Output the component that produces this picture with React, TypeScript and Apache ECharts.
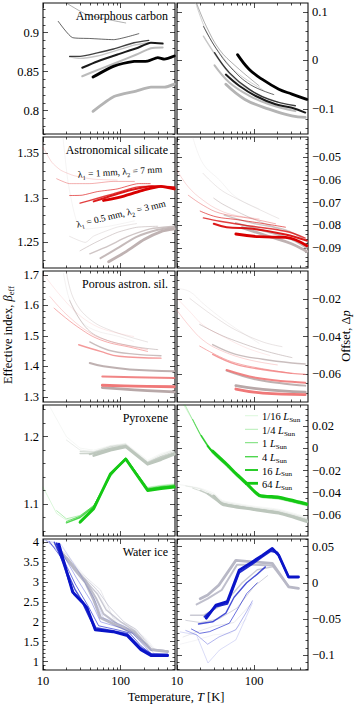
import React, { useEffect, useRef } from "react";
import * as echarts from "echarts";

// [set (0 = λ1=1mm/λ2=7mm coloured, 1 = λ1=0.5mm/λ2=3mm grey), luminosity index (0..5), [T, value] points]
type Line = [number, number, number[][]];

const luminosities = ["1/16", "1/4", "1", "4", "16", "64"];
const panelTitles = ["Amorphous carbon", "Astronomical silicate", "Porous astron. sil.", "Pyroxene", "Water ice"];

const xMajorTicks = [10, 100];
const xMinorTicks = [20, 30, 40, 50, 60, 70, 80, 90, 200, 300, 400];
const xTickLabels = [10, 100];

const leftYRange = [[0.77, 0.938], [1.221, 1.3685], [1.283, 1.713], [1.0525, 1.247], [0.79, 4.08]];
const rightYRange = [[-0.151, 0.118], [-0.0988, -0.041], [-0.0747, -0.0051], [-0.079, 0.039], [-0.1207, 0.0606]];
const leftYTicks = [[0.8, 0.85, 0.9], [1.25, 1.3, 1.35], [1.3, 1.4, 1.5, 1.6, 1.7], [1.1, 1.2], [1, 1.5, 2, 2.5, 3, 3.5, 4]];
const rightYTicks = [[-0.1, 0, 0.1], [-0.09, -0.08, -0.07, -0.06, -0.05], [-0.06, -0.04, -0.02], [-0.06, -0.04, -0.02, 0, 0.02], [-0.1, -0.05, 0, 0.05]];
const leftYMinorStep = [0.01, 0.01, 0.02, 0.02, 0.1];
const rightYMinorStep = [0.02, 0.002, 0.005, 0.005, 0.01];

const carbonL: Line[] = [
  [1, 3, [[22, 0.869], [30, 0.867], [50, 0.870], [81, 0.876], [148, 0.884], [230, 0.887]]],
  [1, 4, [[32, 0.844], [50, 0.852], [91, 0.862], [160, 0.872], [245, 0.880], [347, 0.881]]],
  [1, 5, [[44, 0.799], [82, 0.818], [158, 0.825], [245, 0.830], [365, 0.830], [490, 0.834]]],
  [0, 1, [[20, 0.938], [37, 0.923], [116, 0.9124]]],
  [0, 2, [[15.7, 0.9145], [24, 0.8936], [40, 0.8925], [81, 0.891], [171, 0.8987]]],
  [0, 3, [[22, 0.8696], [30, 0.8696], [50, 0.874], [81, 0.879], [148, 0.887], [230, 0.890]]],
  [0, 4, [[32, 0.855], [50, 0.863], [91, 0.872], [160, 0.880], [245, 0.887], [347, 0.886]]],
  [0, 5, [[44, 0.843], [82, 0.857], [149, 0.863], [222, 0.8635], [300, 0.868], [365, 0.866], [490, 0.870]]],
];
const carbonR: Line[] = [
  [1, 2, [[17.5, 0.118], [24, 0.06], [36, 0.015], [60, -0.025], [130, -0.06]]],
  [1, 3, [[22, 0.05], [32, 0.01], [50, -0.03], [90, -0.062], [200, -0.085]]],
  [1, 4, [[30.7, -0.01], [47.7, -0.045], [86, -0.072], [156, -0.09], [343, -0.104]]],
  [1, 5, [[43, -0.049], [76, -0.08], [156, -0.1], [309, -0.114], [460, -0.117]]],
  [0, 1, [[17.9, 0.118], [24, 0.07], [35.6, 0.022], [58, -0.012], [116, -0.052]]],
  [0, 2, [[22, 0.07], [32, 0.025], [50, -0.015], [90, -0.05], [180, -0.07]]],
  [0, 3, [[30.7, 0.016], [47.7, -0.025], [86, -0.059], [156, -0.08], [343, -0.093]]],
  [0, 4, [[43, -0.029], [64, -0.052], [105, -0.073], [190, -0.09], [309, -0.097], [460, -0.107]]],
  [0, 5, [[61, 0.012], [86, -0.018], [128, -0.039], [209, -0.059], [309, -0.069], [482, -0.08]]],
];
const silicateL: Line[] = [
  [1, 0, [[18, 1.37], [21, 1.318], [27, 1.274], [36, 1.265], [70, 1.268], [150, 1.274]]],
  [1, 1, [[22, 1.2566], [35, 1.2498], [45, 1.257], [90, 1.267], [160, 1.271]]],
  [1, 2, [[30, 1.2404], [48, 1.25], [90, 1.261], [160, 1.2668], [300, 1.268]]],
  [1, 3, [[40, 1.237], [70, 1.246], [120, 1.256], [240, 1.265], [490, 1.268]]],
  [1, 4, [[55, 1.232], [90, 1.243], [160, 1.256], [300, 1.264], [490, 1.267]]],
  [1, 5, [[70, 1.228], [120, 1.24], [200, 1.253], [330, 1.262], [490, 1.265]]],
  [0, 0, [[10, 1.357], [13, 1.34], [17, 1.331], [25, 1.325], [45, 1.321], [90, 1.32]]],
  [0, 1, [[15, 1.3215], [22, 1.316], [40, 1.316], [80, 1.3185], [150, 1.3185]]],
  [0, 2, [[22, 1.3026], [32, 1.303], [50, 1.307], [90, 1.31], [170, 1.316], [240, 1.316]]],
  [0, 3, [[30, 1.294], [48, 1.299], [80, 1.3045], [160, 1.312], [300, 1.313], [490, 1.311]]],
  [0, 4, [[45, 1.296], [80, 1.303], [140, 1.309], [250, 1.313], [490, 1.312]]],
  [0, 5, [[60, 1.297], [110, 1.302], [200, 1.309], [330, 1.313], [490, 1.31]]],
];
const silicateR: Line[] = [
  [1, 0, [[16, -0.041], [21.7, -0.0527], [35.6, -0.06], [58, -0.0675], [116, -0.0727]]],
  [1, 1, [[21.7, -0.057], [36, -0.064], [58, -0.068], [156, -0.075], [210, -0.077]]],
  [1, 2, [[30, -0.068], [41, -0.071], [95, -0.077], [210, -0.0815]]],
  [1, 3, [[41, -0.0755], [95, -0.079], [255, -0.082], [483, -0.087]]],
  [1, 4, [[58, -0.079], [156, -0.083], [300, -0.086], [483, -0.09]]],
  [1, 5, [[70, -0.081], [160, -0.085], [300, -0.088], [483, -0.0915]]],
  [0, 0, [[10, -0.0556], [14, -0.063], [22, -0.069], [36, -0.0734], [58, -0.0756], [116, -0.0771]]],
  [0, 1, [[14, -0.0667], [22, -0.0712], [36, -0.0746], [95, -0.0771], [190, -0.0793]]],
  [0, 2, [[20, -0.0737], [32, -0.0762], [58, -0.0774], [156, -0.0796], [255, -0.0808]]],
  [0, 3, [[22, -0.0767], [36, -0.0782], [95, -0.0804], [255, -0.0826], [460, -0.0856]]],
  [0, 4, [[30, -0.0793], [44, -0.0808], [95, -0.0815], [255, -0.084], [483, -0.0867]]],
  [0, 5, [[58, -0.0838], [116, -0.085], [255, -0.0853], [483, -0.089]]],
];
const porousL: Line[] = [
  [1, 0, [[18.4, 1.705], [22, 1.618], [30, 1.553], [45, 1.52], [95, 1.498], [147, 1.482]]],
  [1, 1, [[20, 1.71], [25, 1.62], [40, 1.555], [80, 1.515], [222, 1.48]]],
  [1, 2, [[22, 1.617], [35, 1.53], [60, 1.49], [150, 1.465], [300, 1.455]]],
  [1, 3, [[40, 1.48], [70, 1.453], [150, 1.44], [330, 1.435]]],
  [1, 4, [[40, 1.411], [60, 1.4], [130, 1.39], [490, 1.384]]],
  [1, 5, [[58, 1.33], [150, 1.323], [490, 1.316]]],
  [0, 0, [[10, 1.705], [15.8, 1.64], [27.4, 1.575], [45, 1.536], [74, 1.515], [147, 1.498]]],
  [0, 1, [[12.3, 1.629], [20.3, 1.569], [40.7, 1.509], [74, 1.482], [222, 1.455]]],
  [0, 2, [[13.9, 1.591], [27.4, 1.531], [55, 1.487], [147, 1.46], [222, 1.449]]],
  [0, 3, [[28.8, 1.471], [55, 1.449], [95, 1.433], [330, 1.427]]],
  [0, 4, [[58, 1.367], [150, 1.364], [490, 1.362]]],
  [0, 5, [[58, 1.338], [150, 1.335], [490, 1.333]]],
];
const porousR: Line[] = [
  [1, 0, [[10, -0.0143], [14.7, -0.0161], [21.7, -0.0223], [35.6, -0.0294], [58, -0.0356], [116, -0.0435]]],
  [1, 1, [[14.7, -0.0197], [21.7, -0.025], [35.6, -0.0312], [58, -0.0365], [130, -0.0428], [230, -0.0453]]],
  [1, 2, [[19.7, -0.0335], [35.6, -0.0388], [58, -0.0423], [140, -0.0476], [309, -0.0511]]],
  [1, 3, [[29, -0.0442], [58, -0.0494], [130, -0.052], [309, -0.054], [460, -0.0545]]],
  [1, 4, [[44, -0.058], [100, -0.0625], [250, -0.065], [460, -0.066]]],
  [1, 5, [[58, -0.066], [130, -0.068], [460, -0.0695]]],
  [0, 0, [[10, -0.0196], [14.7, -0.0267], [21.7, -0.0338], [40, -0.04], [80, -0.046], [160, -0.05]]],
  [0, 1, [[10, -0.026], [14.7, -0.0347], [21.7, -0.0418], [35.6, -0.047], [80, -0.052], [200, -0.055]]],
  [0, 2, [[19.7, -0.045], [35.6, -0.0506], [58, -0.054], [116, -0.0567], [309, -0.0595]]],
  [0, 3, [[29, -0.0494], [58, -0.0547], [140, -0.0577], [309, -0.0595], [460, -0.06]]],
  [0, 4, [[44, -0.0577], [110, -0.062], [309, -0.064], [460, -0.0645]]],
  [0, 5, [[58, -0.0678], [130, -0.07], [460, -0.0708]]],
];
const pyroxeneL: Line[] = [
  [1, 0, [[11.5, 1.25], [20, 1.2], [30, 1.183], [45, 1.18], [74, 1.187], [116, 1.19], [222, 1.165], [331, 1.175], [490, 1.181]]],
  [1, 1, [[20, 1.195], [30, 1.18], [45, 1.178], [74, 1.186], [116, 1.189], [222, 1.163], [331, 1.173], [490, 1.18]]],
  [1, 2, [[30, 1.178], [45, 1.177], [74, 1.185], [116, 1.188], [222, 1.162], [331, 1.171], [490, 1.178]]],
  [1, 3, [[30, 1.175], [45, 1.175], [74, 1.183], [116, 1.187], [222, 1.161], [331, 1.17], [490, 1.176]]],
  [1, 4, [[40, 1.174], [74, 1.182], [116, 1.186], [222, 1.16], [331, 1.168], [490, 1.175]]],
  [1, 5, [[45, 1.172], [74, 1.18], [116, 1.185], [222, 1.159], [331, 1.166], [490, 1.174]]],
  [0, 0, [[10, 1.125], [15, 1.086], [20, 1.076], [30, 1.081], [45, 1.096], [74, 1.14], [116, 1.168], [222, 1.125], [331, 1.128], [490, 1.13]]],
  [0, 1, [[15, 1.09], [20, 1.078], [30, 1.083], [45, 1.097], [74, 1.141], [116, 1.168], [222, 1.124], [331, 1.127], [490, 1.129]]],
  [0, 2, [[20, 1.074], [30, 1.082], [45, 1.098], [74, 1.142], [116, 1.168], [222, 1.123], [331, 1.126], [490, 1.128]]],
  [0, 3, [[20, 1.072], [30, 1.08], [45, 1.096], [74, 1.143], [116, 1.168], [222, 1.122], [331, 1.125], [490, 1.127]]],
  [0, 4, [[30, 1.074], [45, 1.094], [74, 1.144], [116, 1.167], [222, 1.121], [331, 1.124], [490, 1.126]]],
  [0, 5, [[30, 1.073], [45, 1.093], [74, 1.145], [116, 1.167], [222, 1.12], [331, 1.123], [490, 1.125]]],
];
const pyroxeneR: Line[] = [
  [1, 0, [[10.7, -0.0327], [19.7, -0.0358], [30, -0.0405], [39, -0.047], [95, -0.052], [209, -0.055], [483, -0.062]]],
  [1, 1, [[13, -0.034], [19.7, -0.0365], [30, -0.042], [39, -0.048], [95, -0.053], [209, -0.056], [483, -0.063]]],
  [1, 2, [[16, -0.036], [30, -0.043], [39, -0.049], [95, -0.054], [209, -0.057], [483, -0.064]]],
  [1, 3, [[20, -0.038], [30, -0.044], [39, -0.0496], [95, -0.054], [209, -0.0575], [483, -0.0645]]],
  [1, 4, [[25, -0.041], [39, -0.05], [95, -0.0545], [209, -0.058], [483, -0.065]]],
  [1, 5, [[30, -0.043], [39, -0.0505], [95, -0.055], [209, -0.0585], [483, -0.066]]],
  [0, 0, [[12, 0.04], [16, 0.025], [20.7, 0.01], [29, -0.005], [43, -0.016], [58, -0.025], [80, -0.034], [116, -0.044], [209, -0.046], [483, -0.052]]],
  [0, 1, [[12.5, 0.04], [16, 0.0255], [20.7, 0.0105], [29, -0.0045], [43, -0.0155], [58, -0.0245], [80, -0.0335], [116, -0.0437], [209, -0.0457], [483, -0.0517]]],
  [0, 2, [[16, 0.026], [20.7, 0.011], [29, -0.004], [43, -0.015], [58, -0.024], [80, -0.033], [116, -0.0433], [209, -0.0453], [483, -0.0513]]],
  [0, 3, [[20.7, 0.0115], [29, -0.0035], [43, -0.0145], [58, -0.0235], [80, -0.0325], [116, -0.043], [209, -0.045], [483, -0.051]]],
  [0, 4, [[25, 0.002], [29, -0.003], [43, -0.014], [58, -0.023], [80, -0.032], [116, -0.0425], [209, -0.0445], [483, -0.0505]]],
  [0, 5, [[29, -0.0025], [43, -0.0135], [58, -0.0225], [80, -0.0315], [116, -0.042], [209, -0.044], [483, -0.05]]],
];
const iceL: Line[] = [
  [1, 0, [[10, 4.06], [17, 3.9], [27, 3.4], [45, 2.9], [82, 2.05], [150, 1.85], [220, 1.55], [280, 1.3]]],
  [1, 1, [[12, 4.0], [20, 3.7], [30, 3.25], [55, 2.8], [80, 2.1], [130, 1.9], [200, 1.6], [270, 1.3]]],
  [1, 2, [[14, 3.95], [22, 3.55], [32, 3.15], [50, 2.8], [70, 2.4], [110, 2.0], [160, 1.8], [245, 1.35]]],
  [1, 3, [[16, 3.85], [24, 3.45], [33, 3.1], [50, 2.7], [65, 2.3], [100, 2.0], [150, 1.78], [245, 1.32], [402, 1.27]]],
  [1, 4, [[18, 3.7], [25, 3.35], [35, 3.05], [48, 2.6], [60, 2.2], [90, 1.95], [150, 1.75], [245, 1.3], [402, 1.26]]],
  [1, 5, [[20, 3.6], [26, 3.3], [35, 3.0], [45, 2.55], [55, 2.1], [80, 1.95], [147, 1.72], [245, 1.3], [402, 1.25]]],
  [0, 0, [[10, 4.06], [17, 3.95], [28, 3.3], [45, 2.6], [60, 2.1], [110, 1.9], [150, 1.7], [210, 1.45], [270, 1.2]]],
  [0, 1, [[11, 4.04], [18, 3.7], [27, 3.1], [42, 2.5], [55, 2.0], [100, 1.85], [140, 1.72], [200, 1.4], [260, 1.15]]],
  [0, 2, [[12, 4.02], [19, 3.5], [26, 2.95], [38, 2.4], [52, 1.9], [90, 1.8], [130, 1.72], [182, 1.4], [245, 1.2], [270, 1.15]]],
  [0, 3, [[14, 4.0], [20, 3.3], [26, 2.8], [35, 2.4], [48, 1.85], [80, 1.78], [122, 1.7], [182, 1.35], [245, 1.2], [402, 1.18]]],
  [0, 4, [[15, 3.97], [22, 3.0], [25, 2.7], [33, 2.45], [47, 1.82], [80, 1.76], [122, 1.67], [182, 1.32], [245, 1.17], [402, 1.17]]],
  [0, 5, [[16, 3.95], [24, 2.75], [32, 2.5], [37, 2.35], [47, 1.8], [80, 1.75], [122, 1.65], [182, 1.3], [245, 1.15], [402, 1.15]]],
];
const iceR: Line[] = [
  [1, 0, [[11, -0.085], [17, -0.08], [30, -0.072], [50, -0.07], [80, -0.05]]],
  [1, 1, [[12, -0.075], [18, -0.068], [30, -0.06], [55, -0.055], [90, -0.03]]],
  [1, 2, [[13, -0.052], [20, -0.055], [35, -0.05], [60, -0.035], [100, -0.005], [150, 0.01]]],
  [1, 3, [[15, -0.045], [22, -0.045], [40, -0.03], [70, 0.0], [110, 0.018], [172, 0.022]]],
  [1, 4, [[18, -0.03], [25, -0.022], [38, -0.01], [60, 0.025], [100, 0.025], [172, 0.024], [280, -0.005]]],
  [1, 5, [[20, -0.022], [25, -0.017], [35, -0.003], [58, 0.031], [95, 0.029], [172, 0.027], [280, -0.0055], [376, -0.0077]]],
  [0, 0, [[11, -0.068], [17.9, -0.072], [25.2, -0.111], [35.6, -0.093], [58, -0.079], [95, -0.028]]],
  [0, 1, [[13, -0.066], [18, -0.072], [25, -0.085], [35, -0.075], [58, -0.065], [80, -0.04], [95, -0.025]]],
  [0, 2, [[15.4, -0.064], [19.7, -0.07], [26.5, -0.0676], [47.7, -0.056], [64, -0.033], [80, -0.015], [110, 0.0]]],
  [0, 3, [[19, -0.057], [29, -0.054], [43, -0.042], [55, -0.02], [80, 0.0], [110, 0.012], [140, 0.022]]],
  [0, 4, [[22.8, -0.047], [32, -0.033], [45, -0.029], [64, 0.014], [95, 0.026], [128, 0.036], [165, 0.044], [200, 0.042], [280, 0.008], [376, 0.008]]],
  [0, 5, [[24, -0.049], [32, -0.031], [45, -0.026], [64, 0.0175], [95, 0.029], [128, 0.038], [172, 0.0475], [209, 0.038], [280, 0.008], [376, 0.008]]],
];

const leftLines = [carbonL, silicateL, porousL, pyroxeneL, iceL];
const rightLines = [carbonR, silicateR, porousR, pyroxeneR, iceR];

const setColors = [
  ["#000000", "#b4b4b4"],
  ["#d80000", "#bfb2b2"],
  ["#f07878", "#b8a8a8"],
  ["#14c814", "#bcc6bc"],
  ["#0a14c8", "#b8b8c6"],
];
const smoothing = [[0.2, 0.4], [0.2, 0.4], [0.4, 0.4], [0, 0.2], [0, 0]];
const lumWidth = [0.5, 0.7, 1, 1.4, 2, 2.8];
const lumOpacity = [0.3, 0.45, 0.6, 0.75, 0.9, 1];

const rowTops = [3, 137, 271, 405, 539];
const rowHeight = 131;
const colLefts = [43, 177];
const colWidths = [132, 131];
const FONT = "Liberation Serif";
const TICK_FONT = 12.5;
const TITLE_FONT = 12.5;

function minorValues(range: number[], step: number, major: number[]) {
  const out: number[] = [];
  const start = Math.ceil(range[0] / step - 1e-9);
  for (let k = start; k * step <= range[1] + 1e-12; k++) {
    const v = Math.round(k * step * 1e6) / 1e6;
    if (!major.some((m) => Math.abs(m - v) < step / 10)) out.push(v);
  }
  return out;
}

const fmt = (v: number) => String(Math.round(v * 10000) / 10000).replace("-", "\u2212");

function buildOption() {
  const tickLine = { color: "#000", width: 0.7 };
  const grids: any[] = [];
  const xAxes: any[] = [];
  const yAxes: any[] = [];
  const series: any[] = [];
  for (let r = 0; r < 5; r++) {
    for (let c = 0; c < 2; c++) {
      const g = r * 2 + c;
      grids.push({
        left: colLefts[c], top: rowTops[r], width: colWidths[c], height: rowHeight,
        show: true, borderColor: "#111", borderWidth: 1.1, backgroundColor: "transparent",
      });
      const xb = {
        gridIndex: g, type: "log", logBase: 10, min: 10, max: 500,
        axisLine: { show: false, onZero: false }, splitLine: { show: false },
      };
      const major = { show: true, inside: true, length: 5, customValues: xMajorTicks, lineStyle: tickLine };
      const minor = { show: true, inside: true, length: 2.5, customValues: xMinorTicks, lineStyle: tickLine };
      xAxes.push({
        ...xb, position: "bottom", axisTick: major,
        axisLabel: {
          show: r === 4, customValues: xTickLabels, margin: 4, fontFamily: FONT, fontSize: TICK_FONT, color: "#000",
          formatter: (v: number) => String(v),
        },
      });
      xAxes.push({ ...xb, position: "bottom", axisTick: minor, axisLabel: { show: false } });
      xAxes.push({ ...xb, position: "top", axisTick: major, axisLabel: { show: false } });
      xAxes.push({ ...xb, position: "top", axisTick: minor, axisLabel: { show: false } });

      const range = c === 0 ? leftYRange[r] : rightYRange[r];
      const ticks = c === 0 ? leftYTicks[r] : rightYTicks[r];
      const mstep = c === 0 ? leftYMinorStep[r] : rightYMinorStep[r];
      const minors = minorValues(range, mstep, ticks);
      const yb = {
        gridIndex: g, type: "value", min: range[0], max: range[1],
        axisLine: { show: false, onZero: false }, splitLine: { show: false },
      };
      const yMaj = { show: true, inside: true, length: 5, customValues: ticks, lineStyle: tickLine };
      const yMin = { show: true, inside: true, length: 2.5, customValues: minors, lineStyle: tickLine };
      const lab = (show: boolean) => ({
        show, customValues: ticks, margin: 4, fontFamily: FONT, fontSize: TICK_FONT, color: "#000",
        formatter: (v: number) => fmt(v),
      });
      yAxes.push({ ...yb, position: "left", axisTick: yMaj, axisLabel: lab(c === 0) });
      yAxes.push({ ...yb, position: "left", axisTick: yMin, axisLabel: { show: false } });
      yAxes.push({ ...yb, position: "right", axisTick: yMaj, axisLabel: lab(c === 1) });
      yAxes.push({ ...yb, position: "right", axisTick: yMin, axisLabel: { show: false } });

      const lines = (c === 0 ? leftLines[r] : rightLines[r]).slice().sort((a, b) => b[0] - a[0] || a[1] - b[1]);
      lines.forEach((ln, i) => {
        series.push({
          type: "line", xAxisIndex: 4 * g, yAxisIndex: 4 * g,
          name: `${panelTitles[r]} ${luminosities[ln[1]]} L_Sun ${ln[0] === 0 ? "1/7 mm" : "0.5/3 mm"}`,
          data: ln[2], showSymbol: false, symbol: "none", smooth: smoothing[r][c], silent: true, z: 2 + i * 0.01,
          lineStyle: { color: setColors[r][ln[0]], width: lumWidth[ln[1]], opacity: lumOpacity[ln[1]], cap: "round", join: "round" },
        });
      });
    }
  }

  const rich = (size: number) => ({
    n: { fontFamily: FONT, fontSize: size, lineHeight: size + 3 },
    i: { fontFamily: FONT, fontSize: size, fontStyle: "italic", lineHeight: size + 3 },
    s: { fontFamily: FONT, fontSize: size * 0.68, lineHeight: size * 0.68, verticalAlign: "bottom" },
  });
  const richText = (text: string, size: number) => ({
    text, rich: rich(size), fontFamily: FONT, fontSize: size, fill: "#000",
  });

  const graphics: any[] = [];
  panelTitles.forEach((t, r) => {
    graphics.push({
      type: "text", x: 168, y: rowTops[r] + 13,
      style: { text: t, fontFamily: FONT, fontSize: 12, fill: "#000", align: "right", verticalAlign: "middle" },
    });
  });
  graphics.push({
    type: "text", x: 120, y: 172, rotation: 0.063,
    style: { ...richText("{n|λ}{s|1}{n| = 1 mm, λ}{s|2}{n| = 7 mm}", 9.5), align: "center", verticalAlign: "middle" },
  });
  graphics.push({
    type: "text", x: 121, y: 214, rotation: 0.237,
    style: { ...richText("{n|λ}{s|1}{n| = 0.5 mm, λ}{s|2}{n| = 3 mm}", 9.5), align: "center", verticalAlign: "middle" },
  });
  const legendY = [415.7, 429.3, 442.7, 456.7, 470, 483.3];
  luminosities.forEach((l, i) => {
    graphics.push({
      type: "line", shape: { x1: 245, y1: legendY[i], x2: 258, y2: legendY[i] },
      style: { stroke: setColors[3][0], lineWidth: lumWidth[i], opacity: lumOpacity[i] },
    });
    graphics.push({
      type: "text", x: 262, y: legendY[i] + 1,
      style: { ...richText(`{n|${l} }{i|L}{s|Sun}`, 10.5), align: "left", verticalAlign: "middle" },
    });
  });
  graphics.push({
    type: "text", x: 8, y: 335, rotation: Math.PI / 2,
    style: { ...richText("{n|Effective index, }{i|β}{s|eff}", TITLE_FONT), align: "center", verticalAlign: "middle" },
  });
  graphics.push({
    type: "text", x: 346, y: 336, rotation: Math.PI / 2,
    style: { ...richText("{n|Offset, Δ}{i|p}", TITLE_FONT), align: "center", verticalAlign: "middle" },
  });
  graphics.push({
    type: "text", x: 176, y: 697,
    style: { ...richText("{n|Temperature, }{i|T}{n| [K]}", TITLE_FONT), align: "center", verticalAlign: "middle" },
  });

  return {
    animation: false,
    backgroundColor: "#fff",
    grid: grids,
    xAxis: xAxes,
    yAxis: yAxes,
    series,
    graphic: { elements: graphics },
  };
}

export default function App() {
  const ref = useRef<HTMLDivElement>(null);
  useEffect(() => {
    if (!ref.current) return;
    const chart = echarts.init(ref.current, undefined, { renderer: "svg" });
    chart.setOption(buildOption() as any);
    return () => chart.dispose();
  }, []);
  return <div ref={ref} style={{ position: "absolute", left: 0, top: 0, width: 354, height: 704 }} />;
}
